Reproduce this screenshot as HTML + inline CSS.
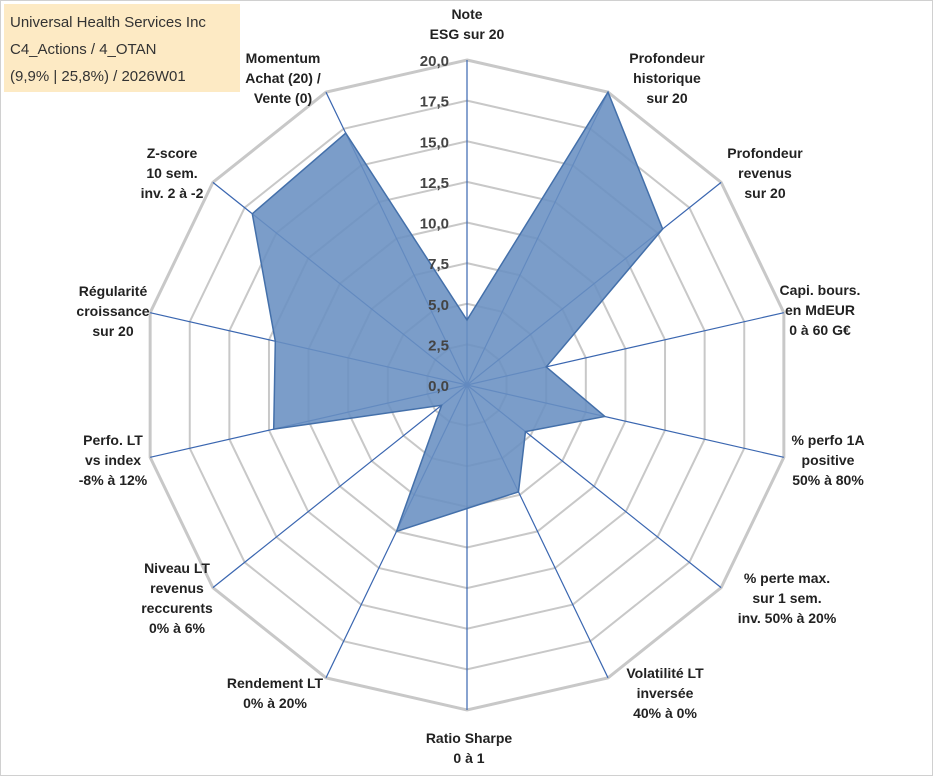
<!DOCTYPE html>
<html><head><meta charset="utf-8"><style>
body{margin:0;background:#fff;}
svg text{font-family:"Liberation Sans",Arial,sans-serif;}
.lab{font-size:14px;font-weight:bold;fill:#222;}
.tick{font-size:15px;font-weight:bold;fill:#444;}
</style></head><body>
<svg id="chart" width="933" height="776" xmlns="http://www.w3.org/2000/svg">
<rect x="0.5" y="0.5" width="932" height="775" fill="#fff" stroke="#d0d0d0"/>
<g id="grid"></g>
<g id="series"></g>
<g id="ticks"></g>
<g id="labels"></g>
<rect x="4" y="4" width="236" height="88" fill="#fdeac4"/>
<text x="10" y="27" font-size="15" fill="#333">Universal Health Services Inc</text>
<text x="10" y="54" font-size="15" fill="#333">C4_Actions / 4_OTAN</text>
<text x="10" y="81" font-size="15" fill="#333">(9,9% | 25,8%) / 2026W01</text>
</svg>
<script>
const categories=[["Note","ESG sur 20"],["Profondeur","historique","sur 20"],["Profondeur","revenus","sur 20"],["Capi. bours.","en MdEUR","0 à 60 G€"],["% perfo 1A","positive","50% à 80%"],["% perte max.","sur 1 sem.","inv. 50% à 20%"],["Volatilité LT","inversée","40% à 0%"],["Ratio Sharpe","0 à 1"],["Rendement LT","0% à 20%"],["Niveau LT","revenus","reccurents","0% à 6%"],["Perfo. LT","vs index","-8% à 12%"],["Régularité","croissance","sur 20"],["Z-score","10 sem.","inv. 2 à -2"],["Momentum","Achat (20) /","Vente (0)"]];
const values=[4,20,15.4,5,8.7,4.6,7.3,7.6,10,2,12.2,12.1,16.9,17.2];
const tickLabels=["0,0","2,5","5,0","7,5","10,0","12,5","15,0","17,5","20,0"];
const maxVal=20;
const cx=467,cy=385,R=325,N=categories.length;
// label placement (layout, first line center)
const labelPos=[[467,14],[667,58],[765,153],[820,290],[828,440],[787,578],[665,673],[469,738],[275,683],[177,568],[113,440],[113,291],[172,153],[283,58]];
const ns="http://www.w3.org/2000/svg";
function mk(t,a,p){const e=document.createElementNS(ns,t);for(const k in a)e.setAttribute(k,a[k]);p.appendChild(e);return e;}
function pt(i,v){const a=i*2*Math.PI/N;const r=v/maxVal*R;return [cx+r*Math.sin(a),cy-r*Math.cos(a)];}
const grid=document.getElementById('grid');
for(let k=1;k<tickLabels.length;k++){const v=k*maxVal/(tickLabels.length-1);
 const pts=[];for(let i=0;i<N;i++)pts.push(pt(i,v).join(','));
 const p=mk('polygon',{points:pts.join(' '),fill:'none',stroke:'#c8c8c8','stroke-width':k==tickLabels.length-1?3:2},grid);
 
 }
for(let i=0;i<N;i++){const e=pt(i,maxVal);const l=mk('line',{x1:cx,y1:cy,x2:e[0],y2:e[1],stroke:'#3a66b0','stroke-width':1.2},grid);
 
 }
const ser=document.getElementById('series');
const sp=values.map((v,i)=>pt(i,v).join(',')).join(' ');
const poly=mk('polygon',{points:sp,fill:'#6990c2','fill-opacity':0.88,stroke:'#4470aa','stroke-width':1.5},ser);


const tg=document.getElementById('ticks');
tickLabels.forEach((t,k)=>{const y=cy-k/(tickLabels.length-1)*R;const e=mk('text',{x:cx-18,y:y+6,'text-anchor':'end',class:'tick'},tg);e.textContent=t;
 
 });
const lg=document.getElementById('labels');
categories.forEach((lines,i)=>{const x=labelPos[i][0],y0=labelPos[i][1]+5;
 const t=mk('text',{x:x,y:y0,'text-anchor':'middle',class:'lab'},lg);
 
 
 lines.forEach((ln,j)=>{const s2=mk('tspan',{x:x,y:y0+j*20},t);s2.textContent=ln;});});
</script>
</body></html>
